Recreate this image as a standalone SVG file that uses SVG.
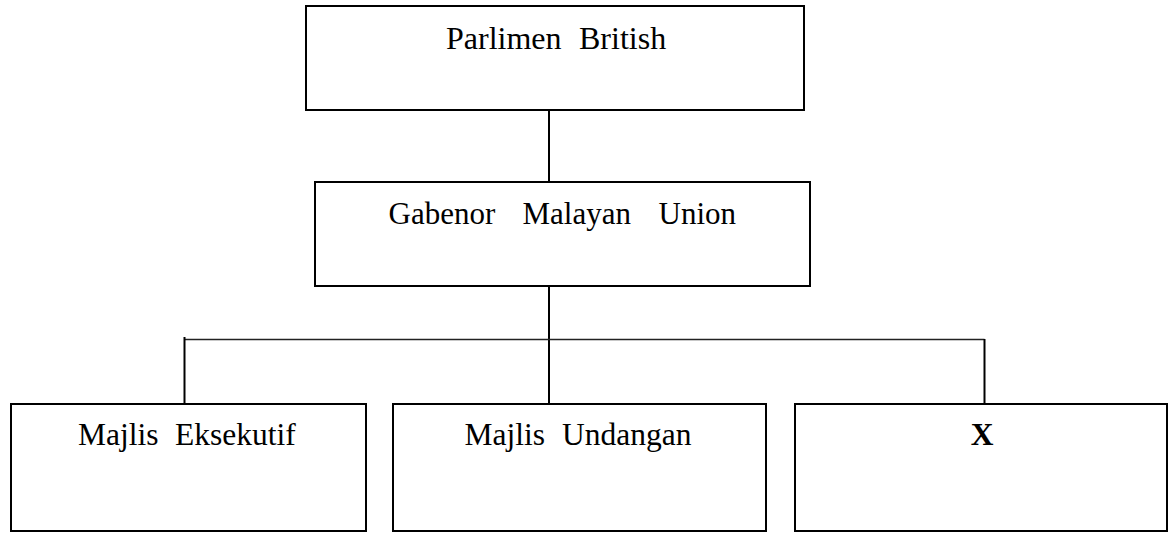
<svg xmlns="http://www.w3.org/2000/svg" width="1168" height="533" viewBox="0 0 1168 533">
<style>
.box{fill:#fff;stroke:#000;stroke-width:2}
.lbl{font-family:"Liberation Serif","Times New Roman",serif;font-size:31.5px;fill:#000}
.con{stroke:#000;stroke-width:2;fill:none}
.hcon{stroke:#222;stroke-width:1.5;fill:none}
</style>
<rect width="1168" height="533" fill="#fff"/>
<g id="connectors">
<line class="con" x1="549" y1="110" x2="549" y2="182"/>
<line class="con" x1="549" y1="286" x2="549" y2="404"/>
<line class="hcon" x1="184.5" y1="339.5" x2="984.5" y2="339.5"/>
<line class="con" x1="184.5" y1="337" x2="184.5" y2="404"/>
<line class="con" x1="984.5" y1="339" x2="984.5" y2="404"/>
</g>
<g id="parlimen">
<rect class="box" x="306" y="6" width="498" height="104"/>
<text class="lbl" y="49" style="font-size:32px"><tspan x="446">Parlimen</tspan><tspan x="579">British</tspan></text>
</g>
<g id="gabenor">
<rect class="box" x="315" y="182" width="495" height="104"/>
<text class="lbl" y="223.5" style="font-size:31px"><tspan x="388.5">Gabenor</tspan><tspan x="522.5">Malayan</tspan><tspan x="658.5">Union</tspan></text>
</g>
<g id="eksekutif">
<rect class="box" x="11" y="404" width="355" height="127"/>
<text class="lbl" y="445"><tspan x="78">Majlis</tspan><tspan x="175">Eksekutif</tspan></text>
</g>
<g id="undangan">
<rect class="box" x="393" y="404" width="373" height="127"/>
<text class="lbl" y="445"><tspan x="464.5">Majlis</tspan><tspan x="562">Undangan</tspan></text>
</g>
<g id="x">
<rect class="box" x="795" y="404" width="372" height="127"/>
<text class="lbl" x="982" y="445" text-anchor="middle" font-weight="bold">X</text>
</g>
</svg>
